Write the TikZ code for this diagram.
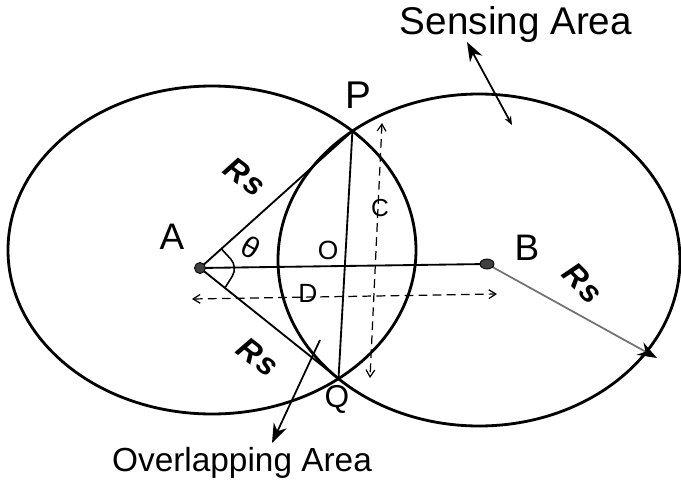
\documentclass[tikz,border=0pt]{standalone}
\usepackage{fontspec}
\setmainfont{Liberation Sans}
\usetikzlibrary{intersections,arrows.meta,calc}
\begin{document}
\begin{tikzpicture}[x=0.02cm,y=-0.02cm,
  curve/.style={line width=1.6pt},
  seg/.style={line width=1.05pt},
  dim/.style={line width=0.7pt, dash pattern=on 5pt off 3pt,
    {Straight Barb[length=4pt,width=5pt]}-{Straight Barb[length=4pt,width=5pt]}},
  big/.style={font=\fontsize{21}{21}\selectfont, inner sep=0pt},
  mid/.style={font=\fontsize{15}{15}\selectfont, inner sep=0pt},
  rs/.style={font=\fontsize{18}{18}\selectfont\bfseries\itshape, inner sep=0pt},
  captext/.style={font=\fontsize{19}{19}\selectfont, inner sep=0pt},
  dot/.style={fill=black!75, draw=black, line width=0.5pt}
]
\useasboundingbox (0,0) rectangle (681,484);

% sensing circles
\draw[curve, name path=L] (212,250) ellipse [x radius=204, y radius=164];
\draw[curve, name path=R] (479,260) ellipse [x radius=201, y radius=166];
\path[name intersections={of=L and R, by={Q,P}}];

% nodes A and B
\coordinate (A) at (200,268);
\coordinate (B) at (487,264);

% radii and chords
\draw[seg] (A) -- (P);
\draw[seg] (A) -- (Q);
\draw[seg] (A) -- (B);
\draw[seg] (P) -- (Q);

% angle mark
\draw[line width=0.9pt, rounded corners=6pt] ($(A)!0.14!(P)$) -- (238,267) -- ($(A)!0.18!(Q)$);

% dimension lines
\coordinate (d1) at (192,299);
\coordinate (d2) at (497,294);
\draw[dim] (d1) -- (d2);
\coordinate (c1) at (382,123);
\coordinate (c2) at (370,378);
\draw[dim] (c1) -- (c2);

% radius of B
\coordinate (rb) at (657,358);
\draw[line width=1pt, black!55, -{Stealth[length=11pt,width=8pt,black]}] (B) -- (rb);

% dots
\fill[dot] (A) circle [radius=5.5];
\fill[dot] (B) ellipse [x radius=7, y radius=5];

% labels
\node[big] (lA) at (172,237) {A};
\node[big] (lB) at (527,248) {B};
\node[big, font=\fontsize{22}{22}\selectfont] (lP) at (358,95) {P};
\node[mid, font=\fontsize{18}{18}\selectfont] (lQ) at (337,399) {Q};
\node[mid] (lO) at (328,250) {O};
\node[mid] (lD) at (308,293) {D};
\node[mid, font=\fontsize{14}{14}\selectfont] (lC) at (380,208) {C};
\node[mid, font=\fontsize{17}{17}\selectfont, rotate=-30] (lT) at (251,247) {θ};
\node[rs, rotate=-37] (r1) at (245,177) {R\kern1pt s};
\node[rs, rotate=-38] (r2) at (258,357) {R\kern1pt s};
\node[rs, rotate=-45] (r3) at (583,283) {R\kern1pt s};

% captions with pointers
\node[captext, font=\fontsize{22}{22}\selectfont] (sens) at (516,25) {Sensing Area};
\coordinate (s1) at (467,42);
\coordinate (s2) at (512,125);
\draw[line width=1pt, {Stealth[length=11pt,width=8pt]}-{Stealth[length=5pt,width=4pt]}] (s1) -- (s2);

\node[captext] (over) at (242,463) {Overlapping Area};
\coordinate (o1) at (320,340);
\coordinate (o2) at (272,443);
\draw[line width=1pt, -{Stealth[length=11pt,width=8pt]}] (o1) -- (o2);
\end{tikzpicture}
\end{document}
